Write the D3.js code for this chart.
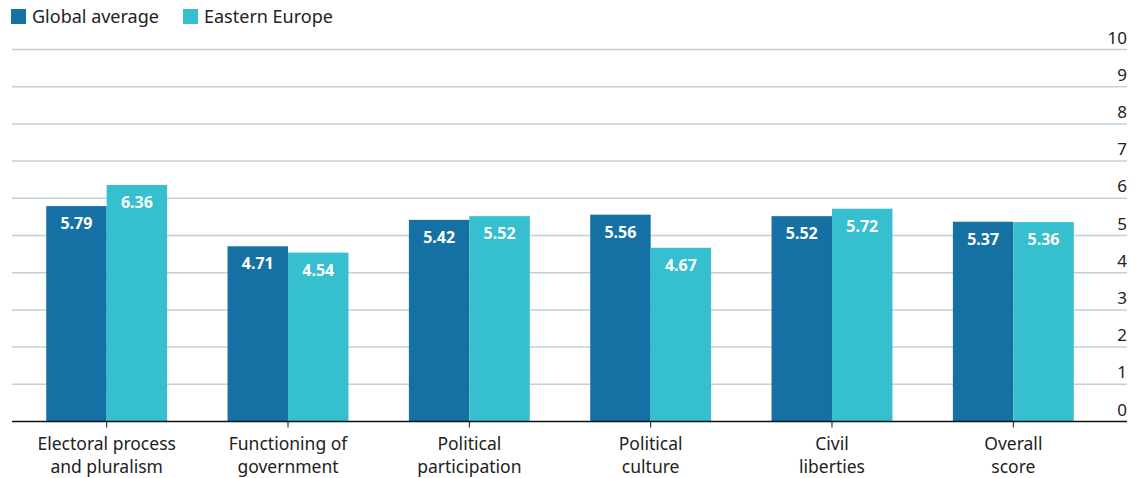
<!DOCTYPE html>
<html><head><meta charset="utf-8">
<script src="https://cdn.jsdelivr.net/npm/d3@7"></script>
<style>body{margin:0;background:#fff}svg{display:block}text{font-family:"Noto Sans",sans-serif}</style>
</head><body><svg id="c" width="1139" height="478"></svg>
<script>
const categories = [["Electoral process","and pluralism"],["Functioning of","government"],["Political","participation"],["Political","culture"],["Civil","liberties"],["Overall","score"]];
const seriesNames = ["Global average","Eastern Europe"];
const globalAvg = [5.79,4.71,5.42,5.56,5.52,5.37];
const easternEurope = [6.36,4.54,5.52,4.67,5.72,5.36];
const yTicks = [0,1,2,3,4,5,6,7,8,9,10];
const colors = ["#1570a3","#35bfcf"];

const svg = d3.select("#c");
const x0 = d3.scaleBand().domain(d3.range(categories.length)).range([16,1104]).paddingInner(0.3333).paddingOuter(0.1667);
const x1 = d3.scaleBand().domain([0,1]).range([0,x0.bandwidth()]);
const y = d3.scaleLinear().domain([0,10]).range([421.5,49.5]);

// gridlines
svg.append("g").selectAll("line").data(yTicks.filter(d=>d>0)).join("line")
  .attr("x1",12).attr("x2",1127).attr("y1",d=>y(d)).attr("y2",d=>y(d))
  .attr("stroke","#c3d0d8").attr("stroke-width",1.5);
svg.append("g").selectAll("text").data(yTicks).join("text")
  .attr("x",1127).attr("y",d=>y(d)-6).attr("text-anchor","end")
  .attr("font-size",17).attr("fill","#222").text(d=>d);

const series = [globalAvg, easternEurope];
const g = svg.append("g");
series.forEach((vals,s)=>{
  g.selectAll(null).data(vals).join("rect")
    .attr("x",(d,i)=>x0(i)+x1(s)).attr("width",x1.bandwidth())
    .attr("y",d=>y(d)).attr("height",d=>y(0)-y(d)).attr("fill",colors[s]);
  g.selectAll(null).data(vals).join("text")
    .attr("x",(d,i)=>x0(i)+x1(s)+x1.bandwidth()/2).attr("y",d=>y(d)+23)
    .attr("text-anchor","middle").attr("font-size",16).attr("font-weight","bold")
    .attr("fill","#fff").text(d=>d.toFixed(2));
});

// baseline and ticks
svg.append("line").attr("x1",12).attr("x2",1127).attr("y1",y(0)).attr("y2",y(0)).attr("stroke","#111").attr("stroke-width",1.5);
const cg = svg.append("g").selectAll("g").data(categories).join("g")
  .attr("transform",(d,i)=>`translate(${x0(i)+x0.bandwidth()/2},0)`);
cg.append("line").attr("y1",y(0)).attr("y2",y(0)+6).attr("stroke","#111");
cg.selectAll("text").data(d=>d).join("text")
  .attr("y",(d,j)=>450+j*23).attr("text-anchor","middle").attr("font-size",17.5).attr("fill","#222").text(d=>d);

// legend
const lg = svg.append("g");
const lx = [11,183];
seriesNames.forEach((n,i)=>{
  lg.append("rect").attr("x",lx[i]).attr("y",9).attr("width",15).attr("height",15).attr("fill",colors[i]);
  lg.append("text").attr("x",lx[i]+21).attr("y",23).attr("font-size",18).attr("fill","#222").text(n);
});
</script></body></html>
